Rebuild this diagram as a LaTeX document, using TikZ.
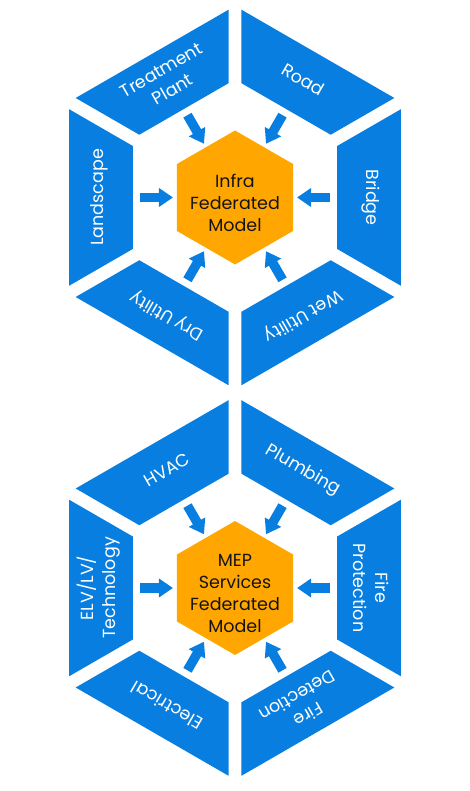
\documentclass[tikz,border=0pt]{standalone}
\usepackage{fontspec}
\setmainfont{Poppins}
\usetikzlibrary{calc,arrows.meta}
\definecolor{segblue}{RGB}{8,127,224}
\definecolor{hexorange}{RGB}{255,167,0}
\definecolor{txtdark}{RGB}{20,20,20}
\newcommand\ringseg[2]{%
  \path (#1) ++({#2-30}:191.5pt) coordinate (oa)
        (#1) ++({#2+30}:191.5pt) coordinate (ob)
        (#1) ++({#2-30}:118pt) coordinate (ia)
        (#1) ++({#2+30}:118pt) coordinate (ib);
  \fill[segblue] ($(oa)!7.5pt!(ob)$) -- ($(ob)!7.5pt!(oa)$) -- ($(ib)!7.5pt!(ia)$) -- ($(ia)!7.5pt!(ib)$) -- cycle;
}
\newcommand\centerhex[1]{%
  \fill[hexorange] ($(#1)+(90:67pt)$) -- ($(#1)+(150:67pt)$) -- ($(#1)+(210:67pt)$)
    -- ($(#1)+(270:67pt)$) -- ($(#1)+(330:67pt)$) -- ($(#1)+(30:67pt)$) -- cycle;
}
\tikzset{
  seglabel/.style={text=white, align=center, inner sep=0pt,
    font=\fontsize{17.5}{22}\selectfont},
  centertext/.style={text=txtdark, align=center, inner sep=0pt,
    font=\fontsize{17.5}{22}\selectfont},
  arr/.style={draw=segblue, line width=9.5pt,
    -{Triangle[width=18pt,length=14pt]}}
}
\begin{document}
\begin{tikzpicture}[x=1pt,y=1pt]
\useasboundingbox (0,0) rectangle (470,791);
\coordinate (ct) at (235,593.5);
\coordinate (cb) at (235,203);
% ---------- top ring ----------
\foreach \m in {0,60,120,180,240,300} {\ringseg{ct}{\m}}
\centerhex{ct}
\node[centertext] (infra) at ($(ct)+(0,-5)$) {Infra\\Federated\\Model};
\node[seglabel, rotate=-90] (bridge) at ($(ct)+(0:136pt)$) {Bridge};
\node[seglabel, rotate=-30] (road) at ($(ct)+(60:136pt)$) {Road};
\node[seglabel, rotate=30] (treat) at ($(ct)+(120:136pt)$) {Treatment\\Plant};
\node[seglabel, rotate=90] (land) at ($(ct)+(180:136pt)$) {Landscape};
\node[seglabel, rotate=150] (dry) at ($(ct)+(240:136pt)$) {Dry Utility};
\node[seglabel, rotate=210] (wet) at ($(ct)+(300:136pt)$) {Wet Utility};
\foreach \n in {bridge,road,treat,land,dry,wet}
  \draw[arr] ($(ct)!0.699!(\n)$) -- ($(ct)!0.456!(\n)$);
% ---------- bottom ring ----------
\foreach \m in {0,60,120,180,240,300} {\ringseg{cb}{\m}}
\centerhex{cb}
\node[centertext] (mep) at ($(cb)+(0,-5)$) {MEP\\Services\\Federated\\Model};
\node[seglabel, rotate=-90] (firep) at ($(cb)+(0:136pt)$) {Fire\\Protection};
\node[seglabel, rotate=-30] (plumb) at ($(cb)+(60:136pt)$) {Plumbing};
\node[seglabel, rotate=30] (hvac) at ($(cb)+(120:136pt)$) {HVAC};
\node[seglabel, rotate=90] (elv) at ($(cb)+(180:136pt)$) {ELV/LV/\\Technology};
\node[seglabel, rotate=150] (elec) at ($(cb)+(240:136pt)$) {Electrical};
\node[seglabel, rotate=210] (fired) at ($(cb)+(300:136pt)$) {Fire\\Detection};
\foreach \n in {firep,plumb,hvac,elv,elec,fired}
  \draw[arr] ($(cb)!0.699!(\n)$) -- ($(cb)!0.456!(\n)$);
\end{tikzpicture}
\end{document}
